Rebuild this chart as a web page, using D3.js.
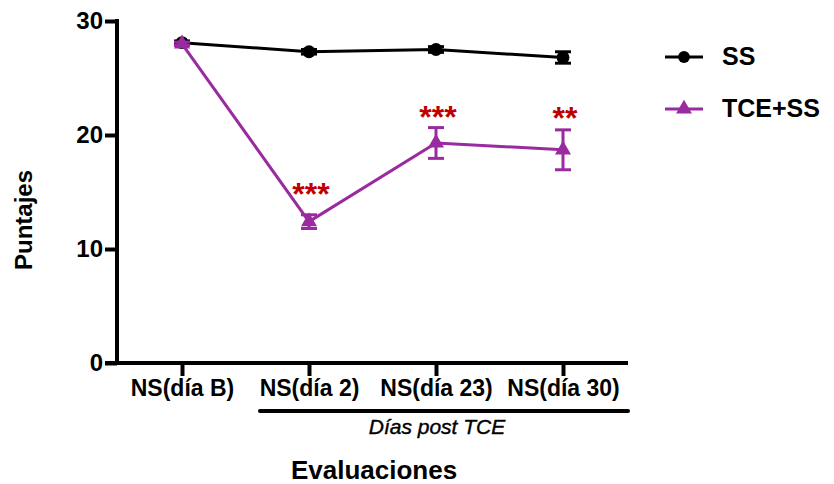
<!DOCTYPE html>
<html>
<head>
<meta charset="utf-8">
<script src="https://cdn.jsdelivr.net/npm/d3@7"></script>
<style>
  body { margin: 0; background: #fff; }
  text { font-family: 'Liberation Sans', Arial, sans-serif; }
</style>
</head>
<body>
<svg id="chart" width="834" height="484"></svg>
<script>
// data
const categories = ['NS(día B)', 'NS(día 2)', 'NS(día 23)', 'NS(día 30)']
const ssMean = [28.1, 27.3, 27.5, 26.8]
const ssErr = [0.15, 0.2, 0.25, 0.5]
const tceMean = [28.0, 12.4, 19.3, 18.7]
const tceErr = [0.15, 0.6, 1.35, 1.75]
const stars = ['', '***', '***', '**']
const starLevel = [0, 15.3, 22.0, 21.9]
const yTicks = [0, 10, 20, 30]

const purple = '#9a2a9f'
const red = '#c00000'

const svg = d3.select('#chart')

let x = d3.scalePoint().domain(categories).range([182, 563])
let y = d3.scaleLinear().domain([0, 30]).range([363, 21])

// y axis
let yAxis = d3.axisLeft(y).tickValues(yTicks).tickSize(12).tickSizeOuter(0).tickPadding(2)
let gy = svg.append('g').attr('class', 'y-axis').attr('transform', 'translate(117,0)').call(yAxis)
gy.select('.domain').remove()
gy.selectAll('.tick line').attr('stroke', '#000').attr('stroke-width', 4)
gy.selectAll('.tick text')
  .attr('font-size', 24)
  .attr('font-weight', 'bold')
  .attr('fill', '#000')
  .attr('font-family', "'Liberation Sans', Arial, sans-serif")
svg.append('line')
  .attr('x1', 117).attr('x2', 117)
  .attr('y1', y(30) - 2).attr('y2', y(0) + 2)
  .attr('stroke', '#000').attr('stroke-width', 4)

// x axis
let xAxis = d3.axisBottom(x).tickSize(13).tickSizeOuter(0).tickPadding(4)
let gx = svg.append('g').attr('class', 'x-axis').attr('transform', 'translate(0,' + y(0) + ')').call(xAxis)
gx.select('.domain').remove()
gx.selectAll('.tick line').attr('stroke', '#000').attr('stroke-width', 4)
gx.selectAll('.tick text')
  .attr('font-size', 23)
  .attr('font-weight', 'bold')
  .attr('fill', '#000')
  .attr('font-family', "'Liberation Sans', Arial, sans-serif")
svg.append('line')
  .attr('x1', 105).attr('x2', 628)
  .attr('y1', y(0)).attr('y2', y(0))
  .attr('stroke', '#000').attr('stroke-width', 4)

// bracket under post-TCE days
svg.append('line')
  .attr('x1', 260).attr('x2', 628)
  .attr('y1', 411).attr('y2', 411)
  .attr('stroke', '#000').attr('stroke-width', 4).attr('stroke-linecap', 'round')
svg.append('text')
  .attr('x', 437).attr('y', 434)
  .attr('text-anchor', 'middle')
  .attr('font-size', 21)
  .attr('font-style', 'italic')
  .attr('stroke', '#000').attr('stroke-width', 0.4)
  .text('Días post TCE')

// axis titles
svg.append('text')
  .attr('x', 374).attr('y', 479)
  .attr('text-anchor', 'middle')
  .attr('font-size', 26)
  .attr('font-weight', 'bold')
  .text('Evaluaciones')
svg.append('text')
  .attr('transform', 'translate(32,220) rotate(-90)')
  .attr('text-anchor', 'middle')
  .attr('font-size', 24)
  .attr('font-weight', 'bold')
  .text('Puntajes')

function drawSeries(mean, err, color, shape) {
  let pts = categories.map((c, i) => ({ c: c, v: mean[i], e: err[i] }))
  let g = svg.append('g')
  g.append('path')
    .datum(pts)
    .attr('d', d3.line().x((d) => x(d.c)).y((d) => y(d.v)))
    .attr('fill', 'none')
    .attr('stroke', color)
    .attr('stroke-width', 3)
  // error bars
  let eb = g.selectAll('.eb').data(pts).enter().append('g').attr('class', 'eb')
  eb.append('line')
    .attr('x1', (d) => x(d.c)).attr('x2', (d) => x(d.c))
    .attr('y1', (d) => y(d.v + d.e)).attr('y2', (d) => y(d.v - d.e))
    .attr('stroke', color).attr('stroke-width', 3)
  ;[1, -1].forEach((s) => {
    eb.append('line')
      .attr('x1', (d) => x(d.c) - 8).attr('x2', (d) => x(d.c) + 8)
      .attr('y1', (d) => y(d.v + s * d.e)).attr('y2', (d) => y(d.v + s * d.e))
      .attr('stroke', color).attr('stroke-width', 3)
  })
  g.selectAll('.mk').data(pts).enter().append('path')
    .attr('class', 'mk')
    .attr('transform', (d) => 'translate(' + x(d.c) + ',' + y(d.v) + ')')
    .attr('d', d3.symbol().type(shape).size(shape === d3.symbolCircle ? 130 : 110))
    .attr('fill', color)
}

drawSeries(ssMean, ssErr, '#000', d3.symbolCircle)
drawSeries(tceMean, tceErr, purple, d3.symbolTriangle)

// significance stars
svg.selectAll('.stars').data(categories).enter().append('text')
  .attr('class', 'stars')
  .attr('x', (d) => x(d) + 2)
  .attr('y', (d, i) => y(starLevel[i]) + 16)
  .attr('text-anchor', 'middle')
  .attr('font-size', 32)
  .attr('font-weight', 'bold')
  .attr('fill', red)
  .text((d, i) => stars[i])

// legend
let legend = [
  { name: 'SS', color: '#000', shape: d3.symbolCircle, yy: 57 },
  { name: 'TCE+SS', color: purple, shape: d3.symbolTriangle, yy: 109 }
]
let lg = svg.selectAll('.leg').data(legend).enter().append('g').attr('class', 'leg')
lg.append('line')
  .attr('x1', 665).attr('x2', 703)
  .attr('y1', (d) => d.yy).attr('y2', (d) => d.yy)
  .attr('stroke', (d) => d.color).attr('stroke-width', 3)
lg.append('path')
  .attr('transform', (d) => 'translate(684,' + d.yy + ')')
  .attr('d', (d) => d3.symbol().type(d.shape).size(110)())
  .attr('fill', (d) => d.color)
lg.append('text')
  .attr('x', 722).attr('y', (d) => d.yy + 8)
  .attr('font-size', 25)
  .attr('font-weight', 'bold')
  .text((d) => d.name)
</script>
</body>
</html>
